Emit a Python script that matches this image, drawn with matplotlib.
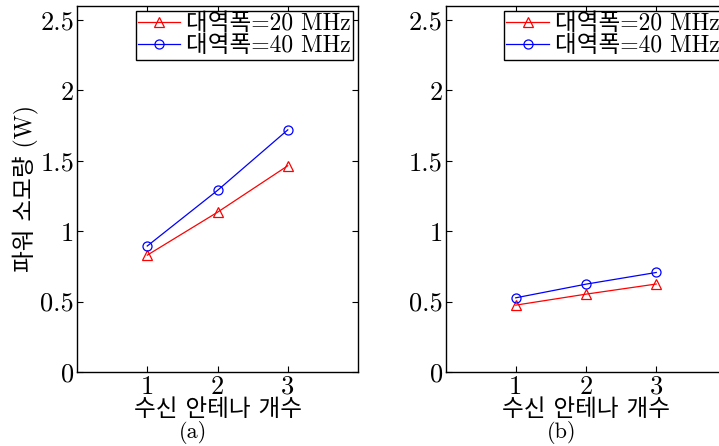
import matplotlib
matplotlib.use("Agg")
import matplotlib.pyplot as plt

# ------------------------- DATA -------------------------
antennas = [1, 2, 3]
bw20_a = [0.83, 1.135, 1.465]
bw40_a = [0.895, 1.29, 1.72]
bw20_b = [0.475, 0.553, 0.625]
bw40_b = [0.527, 0.624, 0.707]
labels = ["대역폭=20 MHz", "대역폭=40 MHz"]
yticks = [0, 0.5, 1, 1.5, 2, 2.5]
ytick_labels = ["0", "0.5", "1", "1.5", "2", "2.5"]
# --------------------------------------------------------

FONT = ["cmr10", "Noto Sans CJK KR"]
plt.rcParams["font.family"] = FONT
plt.rcParams["axes.unicode_minus"] = False
plt.rcParams["mathtext.fontset"] = "cm"

fig = plt.figure(figsize=(7.19, 4.46), dpi=100)
ax_a = fig.add_axes([77 / 719, 74 / 446, 281 / 719, 366 / 446])
ax_b = fig.add_axes([445.5 / 719, 74 / 446, 281 / 719, 366 / 446])

for ax, s20, s40, tag in [(ax_a, bw20_a, bw40_a, "(a)"), (ax_b, bw20_b, bw40_b, "(b)")]:
    ax.plot(antennas, s20, "-^", color="red", lw=0.9, ms=6.5, mfc="none", mew=0.9, label=labels[0])
    ax.plot(antennas, s40, "-o", color="blue", lw=0.9, ms=6.5, mfc="none", mew=0.9, label=labels[1])
    ax.set_xlim(0, 4)
    ax.set_ylim(0, 2.6)
    ax.set_xticks(antennas)
    ax.set_xticklabels([str(a) for a in antennas])
    ax.set_yticks(yticks)
    ax.set_yticklabels(ytick_labels)
    ax.tick_params(direction="in", top=True, right=True, length=4, width=0.8,
                   labelsize=19, pad=2, colors="black")
    for sp in ax.spines.values():
        sp.set_linewidth(1.0)
    ax.set_xlabel("수신 안테나 개수", fontsize=17)
    ax.xaxis.set_label_coords(0.5, -0.103)
    ax.xaxis.label.set_va("center")
    ax.text(0.413, -0.166, tag, transform=ax.transAxes, ha="center", va="center", fontsize=16)
    leg = ax.legend(loc="upper right", fontsize=17, frameon=True, fancybox=False,
                    borderpad=0.1, handlelength=1.8, handletextpad=0.25,
                    labelspacing=0.0, borderaxespad=0.2, framealpha=1)
    leg.get_frame().set_edgecolor("black")
    leg.get_frame().set_linewidth(1.0)

ax_a.set_ylabel("파워 소모량 (W)", fontsize=17)
ax_a.yaxis.set_label_coords(-0.185, 0.5)
ax_a.yaxis.label.set_va("center")

fig.savefig("out.png", dpi=100)
